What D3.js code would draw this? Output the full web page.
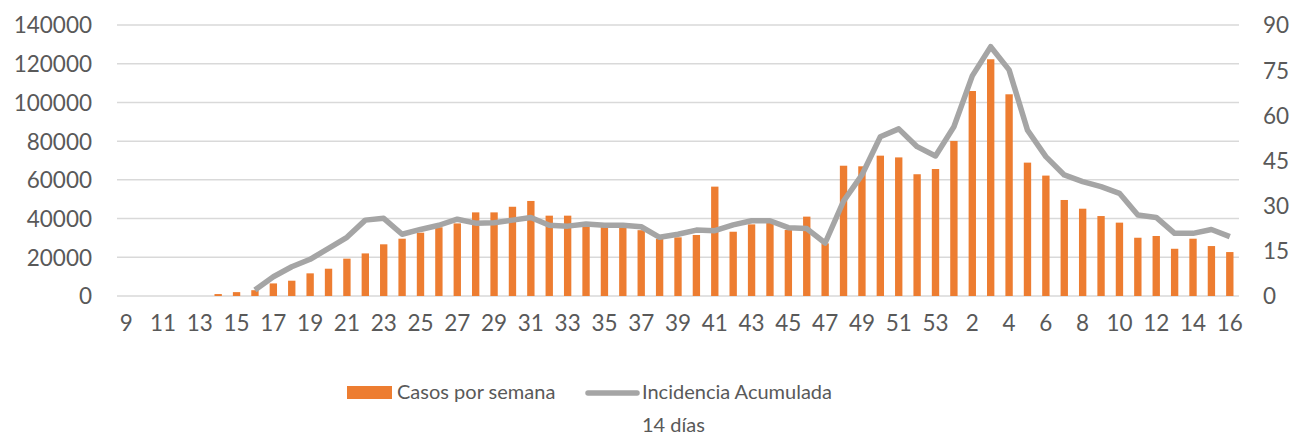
<!DOCTYPE html>
<html>
<head>
<meta charset="utf-8">
<script src="https://cdn.jsdelivr.net/npm/d3@7"></script>
<style>
  body { margin: 0; background: #fff; }
  text { font-family: Lato, "Open Sans", sans-serif; fill: #595959; }
</style>
</head>
<body>
<div id="chart"></div>
<script>
// week labels (2020 weeks 9-53, then 2021 weeks 1-16)
const weeks = [9,10,11,12,13,14,15,16,17,18,19,20,21,22,23,24,25,26,27,28,29,30,31,32,33,34,35,36,37,38,39,40,41,42,43,44,45,46,47,48,49,50,51,52,53,
  1,2,3,4,5,6,7,8,9,10,11,12,13,14,15,16];

// weekly cases (left axis)
const cases = [0,0,0,0,0,1000,2000,3000,6500,7900,11700,14100,19300,22000,26700,29600,32700,35500,37500,43200,43200,46100,49100,41500,41500,37000,36500,36000,34000,29500,30300,31500,56500,33200,37000,38000,34100,41000,27200,67300,67000,72500,71600,62900,65600,
  80100,105900,122300,104200,68900,62200,49600,45100,41300,37900,30100,31000,24400,29600,25800,22700];

// 14-day cumulative incidence (right axis)
const incidence = [null,null,null,null,null,null,null,2.0,6.4,9.7,12.2,15.8,19.5,25.2,25.8,20.5,22.1,23.5,25.5,24.2,24.3,25.2,26.1,23.5,23.2,23.9,23.5,23.5,23.0,19.5,20.5,21.9,21.7,23.6,25.0,25.0,22.7,22.4,17.6,31.5,40.2,52.9,55.5,49.6,46.5,
  56.2,73.1,82.8,75.1,55.1,46.3,40.2,38.0,36.3,34.1,26.9,26.1,20.8,20.8,22.1,19.7];

const leftTicks = [0,20000,40000,60000,80000,100000,120000,140000];
const rightTicks = [0,15,30,45,60,75,90];

const width = 1304, height = 436;
const margin = {left: 117, right: 65, top: 25, bottom: 140};
const innerW = width - margin.left - margin.right;
const innerH = height - margin.top - margin.bottom;

const orange = "#ED7D31", grey = "#A5A5A5";

const svg = d3.select("#chart").append("svg")
    .attr("width", width)
    .attr("height", height);

const g = svg.append("g").attr("transform", `translate(${margin.left},${margin.top})`);

const x = d3.scaleBand().domain(d3.range(weeks.length)).range([0, innerW]).paddingInner(0.6).paddingOuter(0.3);
const yL = d3.scaleLinear().domain([0, 140000]).range([innerH, 0]);
const yR = d3.scaleLinear().domain([0, 90]).range([innerH, 0]);

// gridlines
g.selectAll("line.grid")
    .data(leftTicks)
    .join("line")
    .attr("class", "grid")
    .attr("x1", 0).attr("x2", innerW)
    .attr("y1", d => yL(d)).attr("y2", d => yL(d))
    .attr("stroke", "#D9D9D9")
    .attr("stroke-width", 1.5);

// left axis
const axL = g.append("g")
    .call(d3.axisLeft(yL).tickValues(leftTicks).tickSize(0).tickPadding(25).tickFormat(d3.format("d")));
axL.select(".domain").remove();
axL.selectAll("text").attr("font-size", 22.5).attr("dy", "0.35em");

// right axis
const axR = g.append("g").attr("transform", `translate(${innerW},0)`)
    .call(d3.axisRight(yR).tickValues(rightTicks).tickSize(0).tickPadding(24));
axR.select(".domain").remove();
axR.selectAll("text").attr("font-size", 22.5).attr("dy", "0.35em");

// bottom axis
const axB = g.append("g").attr("transform", `translate(0,${innerH})`)
    .call(d3.axisBottom(x).tickSize(0).tickPadding(27)
        .tickValues(d3.range(0, weeks.length, 2))
        .tickFormat(i => weeks[i]));
axB.select(".domain").remove();
axB.selectAll("text").attr("font-size", 22.5).attr("dy", "0.35em");

// bars
g.selectAll("rect.bar")
    .data(cases)
    .join("rect")
    .attr("class", "bar")
    .attr("x", (d, i) => x(i))
    .attr("y", d => yL(d))
    .attr("width", x.bandwidth())
    .attr("height", d => innerH - yL(d))
    .attr("fill", orange);

// incidence line
const line = d3.line()
    .defined(d => d != null)
    .x((d, i) => x(i) + x.bandwidth() / 2)
    .y(d => yR(d));

g.append("path")
    .datum(incidence)
    .attr("d", line)
    .attr("fill", "none")
    .attr("stroke", grey)
    .attr("stroke-width", 5.5)
    .attr("stroke-linejoin", "round");

// legend
const lg = svg.append("g");
lg.append("rect").attr("x", 347).attr("y", 386).attr("width", 45).attr("height", 13).attr("fill", orange);
lg.append("text").attr("x", 397).attr("y", 399).attr("font-size", 20).text("Casos por semana");
lg.append("line").attr("x1", 588).attr("x2", 637).attr("y1", 393).attr("y2", 393)
    .attr("stroke", grey).attr("stroke-width", 5.5).attr("stroke-linecap", "round");
lg.append("text").attr("x", 642).attr("y", 399).attr("font-size", 20).text("Incidencia Acumulada");
lg.append("text").attr("x", 642).attr("y", 432).attr("font-size", 20).text("14 días");
</script>
</body>
</html>
